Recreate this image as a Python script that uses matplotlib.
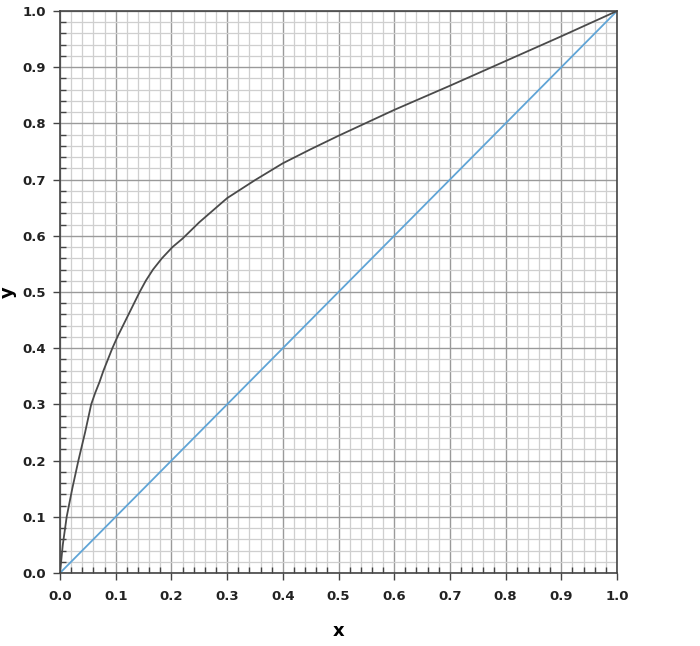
import numpy as np
import matplotlib
matplotlib.use("Agg")
import matplotlib.pyplot as plt
from matplotlib.ticker import MultipleLocator

# equilibrium curve
x_eq = [0.0, 0.005, 0.012, 0.022, 0.033, 0.045, 0.056, 0.063, 0.071, 0.078,
        0.086, 0.094, 0.103, 0.113, 0.123, 0.133, 0.143, 0.154, 0.167, 0.183,
        0.202, 0.22, 0.25, 0.3, 0.35, 0.4, 0.45, 0.5, 0.6, 0.7, 0.8, 0.9, 1.0]
y_eq = [0.0, 0.05, 0.1, 0.15, 0.2, 0.25, 0.3, 0.32, 0.34, 0.36,
        0.38, 0.4, 0.42, 0.44, 0.46, 0.48, 0.5, 0.52, 0.54, 0.56,
        0.58, 0.595, 0.624, 0.667, 0.699, 0.729, 0.754, 0.778, 0.824, 0.867, 0.911, 0.955, 1.0]

# 45 degree line
x_diag = [0.0, 1.0]
y_diag = [0.0, 1.0]

tick_vals = [0.0, 0.1, 0.2, 0.3, 0.4, 0.5, 0.6, 0.7, 0.8, 0.9, 1.0]
tick_labels = ["0.0", "0.1", "0.2", "0.3", "0.4", "0.5", "0.6", "0.7", "0.8", "0.9", "1.0"]

fig = plt.figure(figsize=(7.0, 6.46), dpi=100)
ax = fig.add_axes([60 / 700, 73 / 646, 557 / 700, 562 / 646])

ax.set_xlim(0, 1)
ax.set_ylim(0, 1)
ax.set_xticks(tick_vals)
ax.set_yticks(tick_vals)
ax.set_xticklabels(tick_labels, fontweight="bold", fontsize=9.5, color="#222222")
ax.set_yticklabels(tick_labels, fontweight="bold", fontsize=9.5, color="#222222")
ax.xaxis.set_minor_locator(MultipleLocator(0.02))
ax.yaxis.set_minor_locator(MultipleLocator(0.02))

ax.grid(which="minor", color="#cfcfcf", linewidth=0.9)
ax.grid(which="major", color="#9a9a9a", linewidth=1.0)
ax.set_axisbelow(True)

ax.tick_params(which="major", direction="out", length=5, width=1, color="#444444")
ax.tick_params(axis="x", which="major", pad=7)
ax.tick_params(axis="y", which="major", pad=5)
ax.tick_params(which="minor", direction="in", length=4, width=1, color="#444444")

for s in ax.spines.values():
    s.set_color("#444444")
    s.set_linewidth(1.2)

ax.plot(x_diag, y_diag, color="#5fa4d6", linewidth=1.3)
ax.plot(x_eq, y_eq, color="#4a4a4a", linewidth=1.3)

ax.set_xlabel("x", fontweight="bold", fontsize=13, labelpad=14)
ax.set_ylabel("y", fontweight="bold", fontsize=13, va="center")
ax.yaxis.set_label_coords(-0.093, 0.5)

fig.savefig("out.png", dpi=100)
